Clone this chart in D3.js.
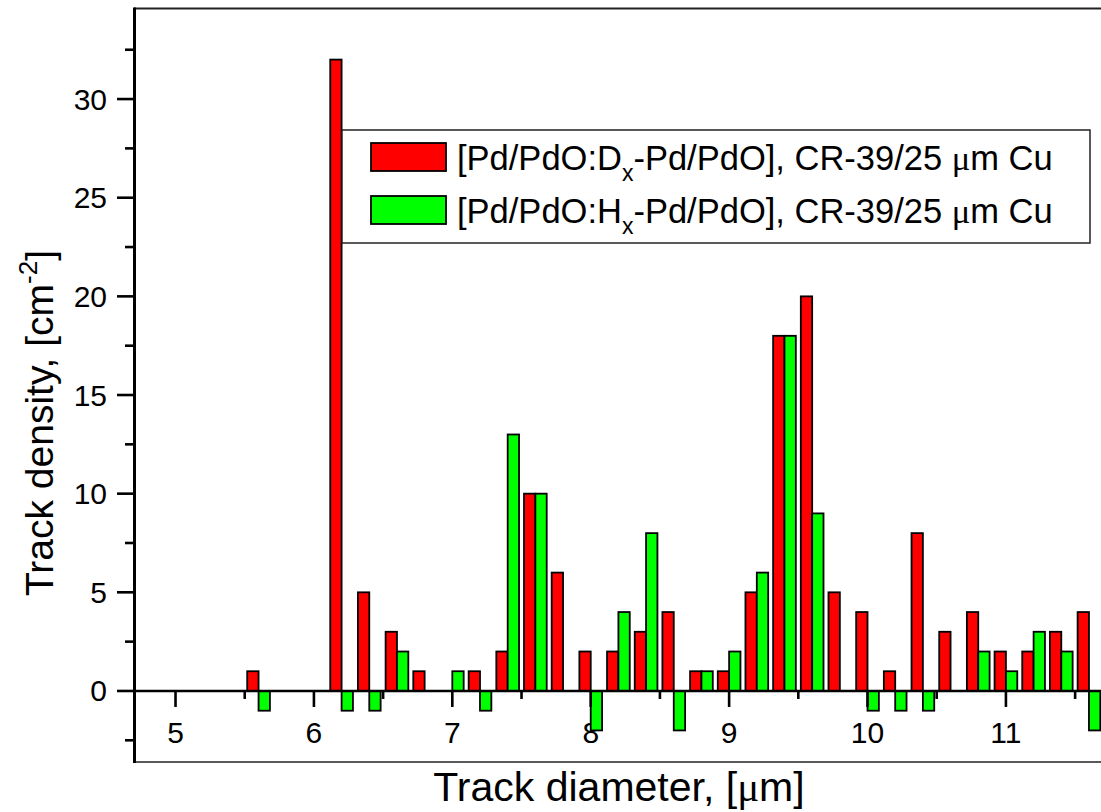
<!DOCTYPE html>
<html>
<head>
<meta charset="utf-8">
<script src="https://cdn.jsdelivr.net/npm/d3@7"></script>
<style>
  body { margin: 0; background: #fff; }
  svg { display: block; font-family: "Liberation Sans", Arial, sans-serif; }
</style>
</head>
<body>
<svg id="chart" width="1101" height="812"></svg>
<script>
// bin centres of track diameter (um)
var diameters = [5.6, 5.8, 6.0, 6.2, 6.4, 6.6, 6.8, 7.0, 7.2, 7.4, 7.6, 7.8, 8.0, 8.2, 8.4, 8.6,
                 8.8, 9.0, 9.2, 9.4, 9.6, 9.8, 10.0, 10.2, 10.4, 10.6, 10.8, 11.0, 11.2, 11.4, 11.6];
var densityD = [1, 0, 0, 32, 5, 3, 1, 0, 1, 2, 10, 6, 2, 2, 3, 4,
                1, 1, 5, 18, 20, 5, 4, 1, 8, 3, 4, 2, 2, 3, 4];
var densityH = [-1, 0, 0, -1, -1, 2, 0, 1, -1, 13, 10, 0, -2, 4, 8, -2,
                1, 2, 6, 18, 9, 0, -1, -1, -1, 0, 2, 1, 3, 2, -2];
var seriesNames = ["D", "H"];
var seriesColors = ["#ff0000", "#00ff00"];
var xMajor = [5, 6, 7, 8, 9, 10, 11];
var xMinor = [5.5, 6.5, 7.5, 8.5, 9.5, 10.5, 11.5];
var yMajor = [0, 5, 10, 15, 20, 25, 30];
var yMinor = [-2.5, 2.5, 7.5, 12.5, 17.5, 22.5, 27.5, 32.5];

var svg = d3.select("#chart");

var x = d3.scaleLinear().domain([4.7, 11.7]).range([134, 1102.8]);
var y = d3.scaleLinear().domain([-3.6, 34.6]).range([762, 8.3]);
// red sits left of the bin centre, green right of it
var offset = d3.scaleBand().domain(seriesNames).range([-0.082, 0.082]);

var bars = [];
diameters.forEach(function(dm, i) {
    bars.push({x: dm, s: "D", v: densityD[i]});
    bars.push({x: dm, s: "H", v: densityH[i]});
});
bars = bars.filter(function(d) { return d.v !== 0; });

// x tick labels (drawn first, bars overlap them)
svg.append("g").selectAll("text").data(xMajor).enter().append("text")
    .attr("x", function(d) { return x(d); })
    .attr("y", y(0) + 52)
    .attr("text-anchor", "middle")
    .attr("font-size", 30)
    .text(function(d) { return d; });

// y tick labels
svg.append("g").selectAll("text").data(yMajor).enter().append("text")
    .attr("x", 107)
    .attr("y", function(d) { return y(d) + 10.5; })
    .attr("text-anchor", "end")
    .attr("font-size", 30)
    .text(function(d) { return d; });

// bars
svg.append("g").selectAll("rect").data(bars).enter().append("rect")
    .attr("x", function(d) { return x(d.x + offset(d.s)); })
    .attr("width", x(4.7 + offset.bandwidth()) - x(4.7))
    .attr("y", function(d) { return y(Math.max(0, d.v)); })
    .attr("height", function(d) { return Math.abs(y(d.v) - y(0)); })
    .attr("fill", function(d) { return seriesColors[seriesNames.indexOf(d.s)]; })
    .attr("stroke", "#000")
    .attr("stroke-width", 1.8);

// frame top / bottom
svg.append("line").attr("x1", 134).attr("x2", 1101).attr("y1", 8.5).attr("y2", 8.5)
    .attr("stroke", "#222").attr("stroke-width", 1.8);
svg.append("line").attr("x1", 134).attr("x2", 1101).attr("y1", 762).attr("y2", 762)
    .attr("stroke", "#222").attr("stroke-width", 1.5);

// x axis on the zero line
svg.append("line").attr("x1", 134).attr("x2", 1101).attr("y1", y(0)).attr("y2", y(0))
    .attr("stroke", "#000").attr("stroke-width", 2.6);
svg.append("g").selectAll("line").data(xMajor).enter().append("line")
    .attr("x1", function(d) { return x(d); }).attr("x2", function(d) { return x(d); })
    .attr("y1", y(0)).attr("y2", y(0) + 16)
    .attr("stroke", "#000").attr("stroke-width", 2.6);
svg.append("g").selectAll("line").data(xMinor).enter().append("line")
    .attr("x1", function(d) { return x(d); }).attr("x2", function(d) { return x(d); })
    .attr("y1", y(0)).attr("y2", y(0) + 8)
    .attr("stroke", "#000").attr("stroke-width", 2.6);

// y axis
svg.append("line").attr("x1", 134.5).attr("x2", 134.5).attr("y1", 7.5).attr("y2", 763)
    .attr("stroke", "#000").attr("stroke-width", 3);
svg.append("g").selectAll("line").data(yMajor).enter().append("line")
    .attr("x1", 117).attr("x2", 134)
    .attr("y1", function(d) { return y(d); }).attr("y2", function(d) { return y(d); })
    .attr("stroke", "#000").attr("stroke-width", 2.6);
svg.append("g").selectAll("line").data(yMinor).enter().append("line")
    .attr("x1", 125).attr("x2", 134)
    .attr("y1", function(d) { return y(d); }).attr("y2", function(d) { return y(d); })
    .attr("stroke", "#000").attr("stroke-width", 2.6);

// axis titles
var xt = svg.append("text")
    .attr("x", 619).attr("y", 801)
    .attr("text-anchor", "middle")
    .attr("font-size", 41)
    .text("Track diameter, [");
xt.append("tspan").attr("font-family", "'Liberation Serif', serif").text("\u03bc");
xt.append("tspan").text("m]");

var yt = svg.append("text")
    .attr("transform", "translate(53,423) rotate(-90)")
    .attr("text-anchor", "middle")
    .attr("font-size", 39)
    .text("Track density, [cm");
yt.append("tspan").attr("font-size", 26).attr("dy", -16).text("-2");
yt.append("tspan").attr("dy", 16).text("]");

// legend
var legend = svg.append("g");
legend.append("rect")
    .attr("x", 342).attr("y", 130).attr("width", 748).attr("height", 113)
    .attr("fill", "#fff").attr("stroke", "#222").attr("stroke-width", 1.5);

var legendRows = legend.selectAll("g.row").data(seriesNames).enter().append("g")
    .attr("class", "row")
    .attr("transform", function(d, i) { return "translate(0," + (i * 53) + ")"; });

legendRows.append("rect")
    .attr("x", 371).attr("y", 143).attr("width", 75).attr("height", 28)
    .attr("fill", function(d, i) { return seriesColors[i]; })
    .attr("stroke", "#000").attr("stroke-width", 1.8);

var lt = legendRows.append("text")
    .attr("x", 457).attr("y", 170)
    .attr("font-size", 34.5);
lt.append("tspan").text(function(d) { return "[Pd/PdO:" + d; });
lt.append("tspan").attr("font-size", 23).attr("dy", 11).text("x");
lt.append("tspan").attr("dy", -11).text("-Pd/PdO], CR-39/25 ");
lt.append("tspan").attr("font-family", "'Liberation Serif', serif").text("\u03bc");
lt.append("tspan").text("m Cu");
</script>
</body>
</html>
